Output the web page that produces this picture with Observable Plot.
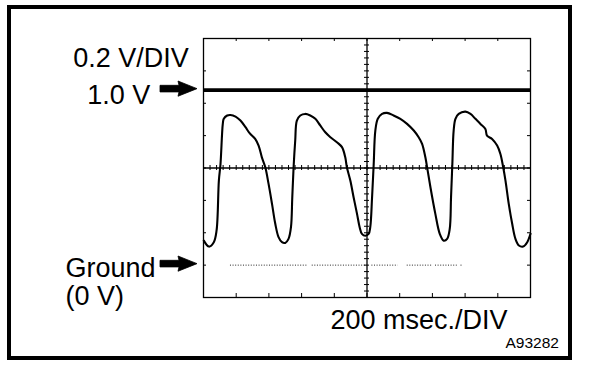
<!DOCTYPE html>
<html>
<head>
<meta charset="utf-8">
<script src="https://cdn.jsdelivr.net/npm/d3@7"></script>
<script src="https://cdn.jsdelivr.net/npm/@observablehq/plot@0.6"></script>
<style>
  html, body { margin: 0; padding: 0; background: #fff; }
  #wrap { position: relative; width: 608px; height: 368px; overflow: hidden; }
  #outer { position: absolute; left: 7px; top: 5px; width: 565px; height: 355px; box-sizing: border-box; border: 4px solid #000; pointer-events: none; }
  #chart { position: absolute; left: 0; top: 0; }
</style>
</head>
<body>
<div id="wrap"><div id="chart"></div><div id="outer"></div></div>
<script>
// ---- data ----
const timeMs = [2,33,63,80,94,104,118,124,145,165,196,226,257,282,316,337,357,378,398,419,439,459,480,500,520,535,543,551,561,571,592,622,653,684,714,745,776,816,847,867,877,898,918,939,955,969,990,1010,1020,1031,1041,1051,1066,1092,1122,1163,1204,1245,1286,1316,1337,1357,1371,1388,1418,1445,1469,1490,1506,1514,1522,1530,1541,1561,1602,1633,1663,1694,1724,1734,1765,1796,1816,1833,1847,1867,1888,1908,1929,1955,1980,2000];
const volts = [0.140,0.106,0.131,0.198,0.483,0.578,0.807,0.836,0.855,0.858,0.849,0.826,0.788,0.754,0.721,0.683,0.616,0.559,0.464,0.350,0.236,0.160,0.131,0.127,0.150,0.217,0.388,0.559,0.712,0.826,0.855,0.864,0.855,0.836,0.798,0.759,0.731,0.702,0.674,0.616,0.559,0.483,0.388,0.293,0.217,0.179,0.168,0.178,0.217,0.388,0.578,0.769,0.836,0.864,0.870,0.855,0.836,0.807,0.769,0.731,0.693,0.616,0.540,0.445,0.293,0.179,0.140,0.150,0.207,0.388,0.578,0.769,0.836,0.864,0.877,0.864,0.836,0.807,0.778,0.740,0.721,0.683,0.635,0.559,0.483,0.350,0.236,0.150,0.112,0.106,0.131,0.179];

// grid divisions (10 horizontal x 200 ms, 8 vertical)
const xDivs = [0,200,400,600,800,1000,1200,1400,1600,1800,2000];
const yDivs = [-0.185,0,0.185,0.37,0.555,0.74,0.925,1.11,1.295];
const xCenter = 1000;
const yCenter = 0.555;
const refLevel = 1.0;       // "1.0 V" reference line
const groundLevel = 0;      // "Ground (0 V)"
const groundSegments = [[165,634],[665,1000],[1030,1190],[1246,1400],[1419,1552],[1575,1590]];
const arrowLevels = [refLevel, groundLevel];

// labels
const voltsPerDivLabel = "0.2 V/DIV";
const refLabel = "1.0 V";
const groundLabel1 = "Ground";
const groundLabel2 = "(0 V)";
const timePerDivLabel = "200 msec./DIV";
const figureId = "A93282";

const trace = timeMs.map((t, i) => ({t, v: volts[i]}));
const minorX = d3.range(0, 2000.01, 40);
const minorY = d3.range(-0.185, 1.2951, 0.037);

const W = 608, H = 368;
const mL = 203, mR = 78, mT = 38, mB = 71;
const innerW = W - mL - mR, innerH = H - mT - mB;
const font = "Liberation Sans, Arial, Helvetica, sans-serif";

function arrows(index, scales, values, dims) {
  const g = d3.create("svg:g");
  for (const v of arrowLevels) {
    const y = scales.y(v) - 1;
    const xs = dims.marginLeft - 43, xe = dims.marginLeft - 6, hx = xe - 19;
    g.append("path")
      .attr("d", `M${xs},${y-3.3}L${hx+1},${y-3.3}L${hx},${y-7.6}L${xe},${y}L${hx},${y+7.6}L${hx+1},${y+3.3}L${xs},${y+3.3}Z`)
      .attr("fill", "#000")
      .attr("stroke", "#000")
      .attr("stroke-width", 0.8)
      .attr("stroke-linejoin", "round");
  }
  return g.node();
}

const plot = Plot.plot({
  width: W, height: H,
  marginLeft: mL, marginRight: mR, marginTop: mT, marginBottom: mB,
  style: {fontFamily: font, background: "#fff", color: "#000"},
  x: {domain: [0, 2000], axis: null},
  y: {domain: [-0.185, 1.295], axis: null},
  marks: [
    Plot.frame({stroke: "#000", strokeWidth: 1.3}),
    // frame ticks
    Plot.tickX(xDivs, {x: d => d, insetTop: innerH - 4, stroke: "#000"}),
    Plot.tickX(xDivs, {x: d => d, insetBottom: innerH - 3, stroke: "#000"}),
    Plot.tickY(yDivs, {y: d => d, insetRight: innerW - 3, stroke: "#000"}),
    Plot.tickY(yDivs, {y: d => d, insetLeft: innerW - 3, stroke: "#000"}),
    // center axes with minor ticks
    Plot.ruleX([xCenter], {stroke: "#000", strokeWidth: 1.3}),
    Plot.ruleY([yCenter], {stroke: "#000", strokeWidth: 1.3}),
    Plot.tickX(minorX, {x: d => d, insetTop: innerH / 2 - 2.5, insetBottom: innerH / 2 - 2.5, stroke: "#000"}),
    Plot.tickY(minorY, {y: d => d, insetLeft: innerW / 2 - 2.5, insetRight: innerW / 2 - 2.5, stroke: "#000"}),
    // ground dotted line
    Plot.ruleY(groundSegments, {y: groundLevel, x1: d => d[0], x2: d => d[1], stroke: "#000", strokeWidth: 1, strokeDasharray: "1,1.6", strokeOpacity: 0.85}),
    // 1.0 V reference line
    Plot.ruleY([refLevel], {stroke: "#000", strokeWidth: 3.6}),
    // signal trace
    Plot.line(trace, {x: "t", y: "v", curve: "catmull-rom", stroke: "#000", strokeWidth: 2.1, strokeLinejoin: "round"}),
    // arrows
    arrows,
    // texts
    Plot.text([voltsPerDivLabel], {frameAnchor: "top-left", dx: 72.7 - mL, dy: 66 - mT, textAnchor: "start", lineAnchor: "bottom", fontSize: 27, fill: "#000"}),
    Plot.text([refLabel], {frameAnchor: "top-left", dx: 86.7 - mL, dy: 103.3 - mT, textAnchor: "start", lineAnchor: "bottom", fontSize: 27, fill: "#000"}),
    Plot.text([groundLabel1], {frameAnchor: "top-left", dx: 65 - mL, dy: 276.5 - mT, textAnchor: "start", lineAnchor: "bottom", fontSize: 27, fill: "#000"}),
    Plot.text([groundLabel2], {frameAnchor: "top-left", dx: 65 - mL, dy: 304 - mT, textAnchor: "start", lineAnchor: "bottom", fontSize: 27, fill: "#000"}),
    Plot.text([timePerDivLabel], {frameAnchor: "top-left", dx: 330 - mL, dy: 328.5 - mT, textAnchor: "start", lineAnchor: "bottom", fontSize: 27, fill: "#000"}),
    Plot.text([figureId], {frameAnchor: "top-left", dx: 505 - mL, dy: 347 - mT, textAnchor: "start", lineAnchor: "bottom", fontSize: 15.5, fill: "#000"})
  ]
});
document.getElementById("chart").appendChild(plot);
</script>
</body>
</html>
